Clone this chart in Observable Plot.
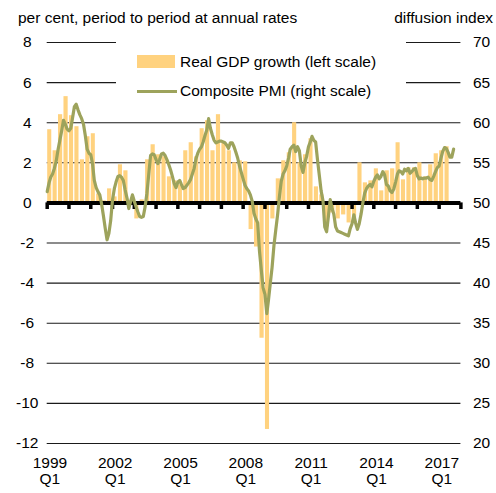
<!DOCTYPE html>
<html>
<head>
<meta charset="utf-8">
<script src="https://cdn.jsdelivr.net/npm/d3@7"></script>
<script src="https://cdn.jsdelivr.net/npm/@observablehq/plot@0.6"></script>
<style>
  html, body { margin: 0; padding: 0; background: #fff; }
  #wrap { position: relative; width: 496px; height: 493px; font-family: "Liberation Sans", Arial, sans-serif; color: #000; overflow: hidden; }
  #wrap svg { position: absolute; left: 0; top: 0; }
  .hdr { position: absolute; font-size: 15.5px; line-height: 1; white-space: nowrap; }
  #legend { position: absolute; left: 116px; top: 38px; width: 290px; height: 70px; background: #fff; }
  .lg-item { position: absolute; font-size: 15.5px; line-height: 1; white-space: nowrap; }
</style>
</head>
<body>
<div id="wrap"></div>
<script>
// ---- Data ----
const gdpStartYear = 1999; // quarterly, from 1999 Q1
const gdpGrowth = [
  3.65, 2.6, 4.4, 5.3,
  4.35, 3.8, 2.15, 3.3,
  3.45, 0.45, 0.1, 0.7,
  0.3, 1.9, 1.6, 0.1,
  -0.8, 0.15, 2.15, 2.9,
  2.4, 2.3, 1.3, 1.1,
  0.9, 2.6, 3.0, 2.3,
  3.7, 4.1, 2.6, 4.4,
  3.0, 2.6, 2.0, 2.1,
  2.05, -1.33, -2.2, -6.75,
  -11.3, -0.8, 1.2, 2.1,
  2.5, 4.0, 2.0, 2.4,
  3.2, 0.8, 0.4, -1.2,
  -0.5, -0.8, -0.6, -1.0,
  -0.75, 2.0, 1.0, 1.1,
  1.7, 0.6, 1.6, 1.7,
  3.0, 1.15, 1.75, 1.75,
  2.0, 1.3, 1.9, 2.45,
  2.6, 2.8
];
const pmiStartYear = 1999; // monthly, from January 1999
const compositePMI = [
  51.4, 52.5, 53.2, 53.6, 54.3, 55.2, 56.6, 57.8, 59.0, 60.3, 59.8, 59.2,
  59.0, 59.3, 60.6, 62.0, 62.3, 61.6, 61.0, 60.5, 59.8, 58.4, 56.7, 56.2,
  56.0, 54.8, 52.8, 51.9, 51.4, 51.0, 49.9, 48.4, 46.8, 45.4, 46.2, 47.8,
  50.4, 51.8, 52.6, 53.3, 53.4, 53.2, 52.8, 51.6, 50.6, 49.3, 50.2, 51.0,
  50.2, 49.5, 48.9, 48.3, 48.2, 48.3, 49.5, 51.2, 53.6, 55.9, 56.1, 56.0,
  55.4, 54.9, 55.4, 56.1, 56.2, 55.9, 55.4, 54.8, 54.1, 53.3, 52.4, 51.9,
  52.6, 52.8, 52.3, 51.8, 51.9, 52.2, 52.5, 52.9, 53.6, 54.3, 55.5, 56.2,
  56.7, 57.0, 57.6, 58.4, 59.1, 60.5, 59.3, 58.5, 57.8, 57.5, 57.6, 57.7,
  57.7, 57.6, 57.5, 57.2, 56.8, 57.5, 57.5, 57.0, 56.3, 55.6, 54.6, 53.8,
  53.0, 52.2, 51.8, 51.5, 51.0, 50.2, 48.7, 48.0, 47.5, 44.0, 41.6, 39.4,
  38.6, 36.2, 37.9, 40.0, 42.0, 44.7, 46.6, 48.5, 50.8, 52.7, 53.6, 54.0,
  54.6, 55.6, 56.7, 57.0, 57.2, 56.4, 57.0, 56.5, 54.6, 53.8, 55.0, 55.8,
  57.0, 57.6, 58.3, 57.8, 57.6, 55.4, 53.5, 51.5, 50.3, 47.0, 46.4, 48.3,
  50.4, 49.3, 48.6, 47.0, 46.5, 46.4, 46.3, 46.2, 46.1, 46.0, 45.9, 46.8,
  47.4, 48.5, 47.5, 46.7, 47.4, 48.6, 50.0, 51.2, 51.8, 52.1, 52.3, 52.0,
  52.7, 53.2, 53.5, 53.0, 53.3, 53.9, 53.5, 52.3, 52.1, 51.5, 51.3, 51.7,
  52.6, 53.6, 54.0, 53.9, 53.6, 54.2, 54.0, 54.3, 53.7, 53.9, 54.2, 54.3,
  53.4, 53.0, 53.1, 53.0, 53.1, 53.1, 53.2, 52.9, 52.8, 53.3, 53.9, 54.4,
  54.6, 55.6, 56.4, 56.9, 56.8, 56.3, 55.7, 55.7, 56.7
];
const leftTicks = [-12, -10, -8, -6, -4, -2, 0, 2, 4, 6, 8];
const rightTicks = [20, 25, 30, 35, 40, 45, 50, 55, 60, 65, 70];
const xLabelYears = [1999, 2002, 2005, 2008, 2011, 2014, 2017];
const xLabelQuarter = "Q1";
const axisYears = d3.range(1999, 2019);
const leftTitle = "per cent, period to period at annual rates";
const rightTitle = "diffusion index";
const legendGDP = "Real GDP growth (left scale)";
const legendPMI = "Composite PMI (right scale)";

// ---- Derived tables ----
const qStart = new Date(Date.UTC(gdpStartYear, 0, 1));
const gdpData = gdpGrowth.map((v, i) => ({
  start: d3.utcMonth.offset(qStart, 3 * i),
  end: d3.utcMonth.offset(qStart, 3 * i + 3),
  value: v
}));
const mStart = new Date(Date.UTC(pmiStartYear, 0, 1));
const pmiData = compositePMI.map((v, i) => ({ date: d3.utcMonth.offset(mStart, i), value: v }));
// right scale (20..70) -> left scale (-12..8): 50 <-> 0, 2.5 index points per percentage point
const toLeft = p => (p - 50) / 2.5;

const barColor = "#FFD27F";
const lineColor = "#9DA35C";
const FONT = "Liberation Sans, Arial, sans-serif";

const chart = Plot.plot({
  width: 496,
  height: 493,
  marginLeft: 46.7,
  marginRight: 35.6,
  marginTop: 42,
  marginBottom: 50,
  style: { fontFamily: FONT, fontSize: "15.5px", color: "#000", background: "#fff" },
  x: { type: "utc", domain: [new Date(Date.UTC(1999, 0, 1)), new Date(Date.UTC(2018, 0, 1))], axis: null },
  y: { domain: [-12, 8], axis: null },
  marks: [
    Plot.ruleY(leftTicks.filter(d => d !== 0), { stroke: "#1a1a1a", strokeWidth: 1.1 }),
    Plot.rectY(gdpData, { x1: "start", x2: "end", y1: 0, y2: "value", fill: barColor, insetLeft: 0.5, insetRight: 0.8 }),
    Plot.ruleY([0], { stroke: "#000", strokeWidth: 4 }),
    Plot.ruleX(axisYears, { x: d => new Date(Date.UTC(d, 0, 1)), y1: 0, y2: -0.33, stroke: "#000", strokeWidth: 3.5 }),
    Plot.line(pmiData, { x: "date", y: d => toLeft(d.value), stroke: lineColor, strokeWidth: 3.2, curve: "linear" }),
    Plot.axisY(leftTicks, { anchor: "left", label: null, tickSize: 0, tickPadding: 20, textAnchor: "middle", fontSize: 15.5, tickFormat: d => d }),
    Plot.axisY(leftTicks, { anchor: "right", label: null, tickSize: 0, tickPadding: 12, fontSize: 15.5, tickFormat: d => rightTicks[leftTicks.indexOf(d)] }),
    Plot.text(xLabelYears, {
      x: d => new Date(Date.UTC(d, 1, 15)),
      y: -12,
      text: d => `${d}\n${xLabelQuarter}`,
      dy: 27,
      lineHeight: 1.07,
      fontSize: 15.5,
      fill: "#000"
    })
  ]
});

const wrap = document.getElementById("wrap");
wrap.appendChild(chart);

function addDiv(cls, text, styles) {
  const d = document.createElement("div");
  d.className = cls;
  d.textContent = text;
  Object.assign(d.style, styles);
  wrap.appendChild(d);
  return d;
}
addDiv("hdr", leftTitle, { left: "18px", top: "10px" });
addDiv("hdr", rightTitle, { right: "3px", top: "10px" });

const legend = document.createElement("div");
legend.id = "legend";
wrap.appendChild(legend);
const sw1 = document.createElement("div");
Object.assign(sw1.style, { position: "absolute", left: "21px", top: "17px", width: "38px", height: "13px", background: barColor });
legend.appendChild(sw1);
const t1 = document.createElement("div");
t1.className = "lg-item"; t1.textContent = legendGDP;
Object.assign(t1.style, { left: "64px", top: "16px" });
legend.appendChild(t1);
const sw2 = document.createElement("div");
Object.assign(sw2.style, { position: "absolute", left: "21px", top: "51.5px", width: "40px", height: "3px", background: lineColor });
legend.appendChild(sw2);
const t2 = document.createElement("div");
t2.className = "lg-item"; t2.textContent = legendPMI;
Object.assign(t2.style, { left: "64px", top: "45px" });
legend.appendChild(t2);
</script>
</body>
</html>
